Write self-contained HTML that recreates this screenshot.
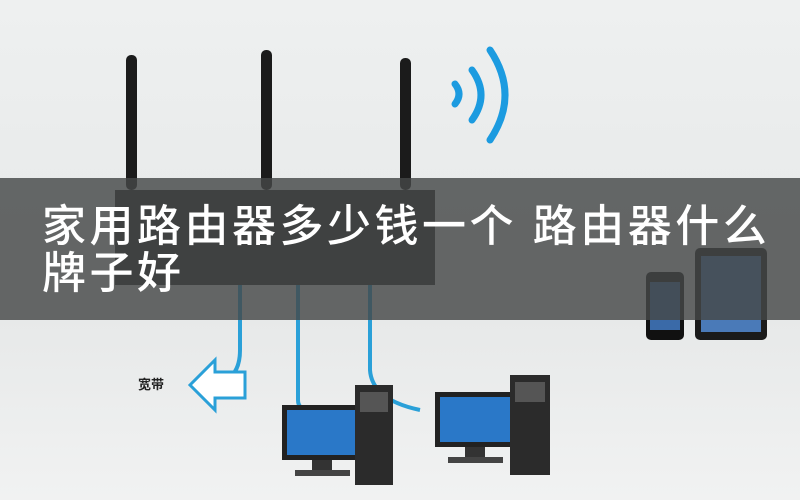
<!DOCTYPE html>
<html><head><meta charset="utf-8"><style>
html,body{margin:0;padding:0}
body{width:800px;height:500px;overflow:hidden;position:relative;background:linear-gradient(180deg,#eef0f0 0%,#e6e8e8 60%,#f1f2f2 100%);font-family:"Liberation Sans","Noto Sans CJK SC",sans-serif}
.banner{position:absolute;left:0;top:178px;width:800px;height:142px;background:rgba(70,72,72,0.82)}
.t{position:absolute;left:42px;color:#fff;font-size:44px;font-weight:500;letter-spacing:3.5px;white-space:nowrap;line-height:1}
</style></head><body>
<svg width="800" height="500" style="position:absolute;left:0;top:0">
<rect x="126" y="55" width="11" height="135" rx="5" fill="#1b1b1b"/>
<rect x="261" y="50" width="11" height="140" rx="5" fill="#1b1b1b"/>
<rect x="400" y="58" width="11" height="132" rx="5" fill="#1b1b1b"/>
<path d="M455 84 q8 10 0 20" stroke="#1c9be0" stroke-width="7" fill="none" stroke-linecap="round"/>
<path d="M472 70 q18 25 0 50" stroke="#1c9be0" stroke-width="7" fill="none" stroke-linecap="round"/>
<path d="M490 50 q30 45 0 90" stroke="#1c9be0" stroke-width="7" fill="none" stroke-linecap="round"/>
<rect x="115" y="190" width="320" height="95" fill="#222"/>
<path d="M240 285 L240 350 Q240 380 215 383" stroke="#2aa0d8" stroke-width="4" fill="none"/>
<path d="M298 285 L298 400 Q298 410 310 410" stroke="#2aa0d8" stroke-width="4" fill="none"/>
<path d="M370 285 L370 370 Q372 400 420 410" stroke="#2aa0d8" stroke-width="4" fill="none"/>
<path d="M190 385 L215 360 L215 372 L245 372 L245 398 L215 398 L215 410 Z" fill="#fff" stroke="#2aa0d8" stroke-width="3"/>
<text x="138" y="389" font-size="13" font-weight="bold" fill="#222" font-family="Noto Sans CJK SC, sans-serif">宽带</text>
<rect x="282" y="405" width="78" height="55" fill="#222"/>
<rect x="287" y="410" width="68" height="45" fill="#2a78c8"/>
<rect x="312" y="460" width="20" height="12" fill="#333"/>
<rect x="295" y="470" width="55" height="6" fill="#444"/>
<rect x="355" y="385" width="38" height="100" fill="#2b2b2b"/>
<rect x="360" y="392" width="28" height="20" fill="#555"/>
<rect x="435" y="392" width="80" height="55" fill="#222"/>
<rect x="440" y="397" width="70" height="45" fill="#2a78c8"/>
<rect x="465" y="447" width="20" height="12" fill="#333"/>
<rect x="448" y="457" width="55" height="6" fill="#444"/>
<rect x="510" y="375" width="40" height="100" fill="#2b2b2b"/>
<rect x="515" y="382" width="30" height="20" fill="#555"/>
<rect x="646" y="272" width="38" height="68" rx="5" fill="#111"/>
<rect x="650" y="282" width="30" height="48" fill="#3a6aa8"/>
<rect x="695" y="248" width="72" height="92" rx="5" fill="#1a1a1a"/>
<rect x="701" y="256" width="60" height="76" fill="#4a7ab8"/>
</svg>
<div class="banner"></div>
<div class="t" style="top:205px">家用路由器多少钱一个 路由器什么</div>
<div class="t" style="top:252px">牌子好</div>
</body></html>
